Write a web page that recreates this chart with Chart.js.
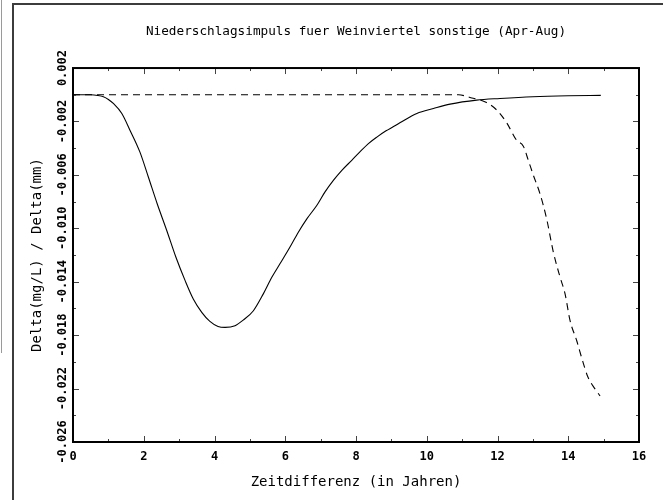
<!DOCTYPE html>
<html>
<head>
<meta charset="utf-8">
<script src="https://cdn.jsdelivr.net/npm/chart.js@4.4.1/dist/chart.umd.min.js"></script>
<style>
  html, body { margin: 0; padding: 0; background: #fff; }
  #wrap { position: relative; width: 663px; height: 500px; overflow: hidden; }
  #c { position: absolute; left: 0; top: 0; }
  .fl { position: absolute; background: #3c3c3c; }
</style>
</head>
<body>
<div id="wrap">
  <canvas id="c" width="663" height="500"></canvas>
  <div class="fl" style="left:12px; top:4px; width:2px; height:496px;"></div>
  <div class="fl" style="left:12px; top:3px; width:651px; height:2px;"></div>
  <div class="fl" style="left:1px; top:0px; width:1px; height:353px; background:#9a9a9a;"></div>
</div>
<script>
// ---- data (years, response values) ----
const solidYears = [0, 0.5, 0.7, 0.86, 1.0, 1.14, 1.38, 1.61, 1.89, 2.13, 2.38, 2.65, 2.91, 3.17, 3.40, 3.64, 3.87, 4.10, 4.30, 4.58, 4.81, 5.10, 5.38, 5.62, 5.85, 6.13, 6.37, 6.61, 6.89, 7.12, 7.36, 7.60, 7.88, 8.11, 8.35, 8.60, 8.85, 9.05, 9.24, 9.72, 10.19, 10.66, 11.41, 12.07, 13.0, 14.0, 14.92];
const solidValues = [0, 0, -0.00005, -0.00015, -0.00035, -0.00065, -0.00140, -0.00265, -0.00428, -0.00616, -0.00816, -0.01016, -0.01217, -0.01392, -0.01529, -0.01629, -0.01697, -0.01735, -0.01742, -0.01729, -0.01687, -0.01617, -0.01491, -0.01367, -0.01266, -0.01142, -0.01029, -0.00929, -0.00829, -0.00729, -0.00641, -0.00566, -0.00491, -0.00428, -0.00366, -0.00315, -0.00270, -0.00240, -0.00210, -0.00140, -0.00103, -0.00070, -0.00040, -0.00028, -0.00015, -0.00008, -0.00005];
const dashedYears = [0, 10.9, 11.22, 11.69, 11.98, 12.26, 12.54, 12.73, 12.87, 13.01, 13.20, 13.39, 13.58, 13.77, 13.91, 14.05, 14.24, 14.38, 14.55, 14.75, 14.90];
const dashedValues = [0, 0, -0.00020, -0.00058, -0.00115, -0.00210, -0.00341, -0.00385, -0.00490, -0.00600, -0.00740, -0.00930, -0.01180, -0.01367, -0.01491, -0.01690, -0.01842, -0.01970, -0.02110, -0.02200, -0.02255];
const xTickStep = 1;
const yTickStep = 0.002;
const xMin = 0, xMax = 16;
const yMin = -0.026, yMax = 0.002;
const titleText = 'Niederschlagsimpuls fuer Weinviertel sonstige (Apr-Aug)';
const xTitle = 'Zeitdifferenz (in Jahren)';
const yTitle = 'Delta(mg/L) / Delta(mm)';

const toPts = (xs, ys) => xs.map((x, i) => ({x: x, y: ys[i]}));

const FAM = '"DejaVu Sans Mono", monospace';
const tickFont = {family: FAM, size: 12, weight: 'bold'};
const meas = document.createElement('canvas').getContext('2d');
meas.font = 'bold 12px "DejaVu Sans Mono"';
const widestY = meas.measureText('-0.026').width;

const isMajorY = v => Math.abs(Math.round(v * 1000)) % 4 === 2;
const isMajorX = v => Math.round(v) % 2 === 0;

const boxTicks = {
  id: 'boxTicks',
  afterDraw(chart) {
    const {ctx, chartArea: a, scales: {x, y}} = chart;
    ctx.save();
    ctx.strokeStyle = '#444';
    ctx.lineWidth = 1;
    ctx.beginPath();
    x.ticks.forEach(t => {
      const px = Math.round(x.getPixelForValue(t.value)) + 0.5;
      const len = isMajorX(t.value) ? 6 : 3;
      ctx.moveTo(px, a.bottom); ctx.lineTo(px, a.bottom - len);
      ctx.moveTo(px, a.top); ctx.lineTo(px, a.top + len);
    });
    y.ticks.forEach(t => {
      const py = Math.round(y.getPixelForValue(t.value)) + 0.5;
      const len = isMajorY(t.value) ? 6 : 3;
      ctx.moveTo(a.left, py); ctx.lineTo(a.left + len, py);
      ctx.moveTo(a.right, py); ctx.lineTo(a.right - len, py);
    });
    ctx.stroke();
    ctx.strokeStyle = '#000';
    ctx.lineWidth = 2;
    ctx.strokeRect(a.left, a.top, a.right - a.left, a.bottom - a.top);
    ctx.restore();
  }
};

new Chart(document.getElementById('c'), {
  type: 'line',
  data: {
    datasets: [
      {
        data: toPts(solidYears, solidValues),
        borderColor: '#000', borderWidth: 1.1, pointRadius: 0,
        cubicInterpolationMode: 'monotone', fill: false
      },
      {
        data: toPts(dashedYears, dashedValues),
        borderColor: '#000', borderWidth: 1.1, pointRadius: 0, borderDash: [7, 5],
        cubicInterpolationMode: 'monotone', fill: false
      }
    ]
  },
  plugins: [boxTicks],
  options: {
    responsive: false,
    animation: false,
    events: [],
    layout: {padding: {left: 14, right: 24, top: 0, bottom: 0}},
    plugins: {
      legend: {display: false},
      tooltip: {enabled: false},
      title: {
        display: true, text: titleText, color: '#000', fullSize: false,
        font: {family: FAM, size: 12.7, weight: 'normal'},
        padding: {top: 24.4, bottom: 28.4}
      }
    },
    scales: {
      x: {
        type: 'linear', min: xMin, max: xMax,
        grid: {display: false, drawTicks: false},
        border: {display: false},
        afterFit(s) { s.height = 58; },
        ticks: {
          stepSize: xTickStep, autoSkip: false, maxRotation: 0, minRotation: 0,
          color: '#000', font: tickFont, padding: 7.8,
          callback: v => isMajorX(v) ? String(Math.round(v)) : ''
        },
        title: {
          display: true, text: xTitle, color: '#000',
          font: {family: FAM, size: 14, weight: 'normal'},
          padding: {top: 0, bottom: 9.6}
        }
      },
      y: {
        type: 'linear', min: yMin, max: yMax,
        grid: {display: false, drawTicks: false},
        border: {display: false},
        afterFit(s) { s.width = 59; },
        ticks: {
          stepSize: yTickStep, autoSkip: false, minRotation: 90, maxRotation: 90,
          crossAlign: 'center',
          color: '#000', font: tickFont, padding: 10 - widestY / 2,
          callback: v => isMajorY(v) ? v.toFixed(3) : ''
        },
        title: {
          display: true, text: yTitle, color: '#000',
          font: {family: FAM, size: 14, weight: 'normal'},
          padding: {top: 14.6, bottom: 0}
        }
      }
    }
  }
});
</script>
</body>
</html>
